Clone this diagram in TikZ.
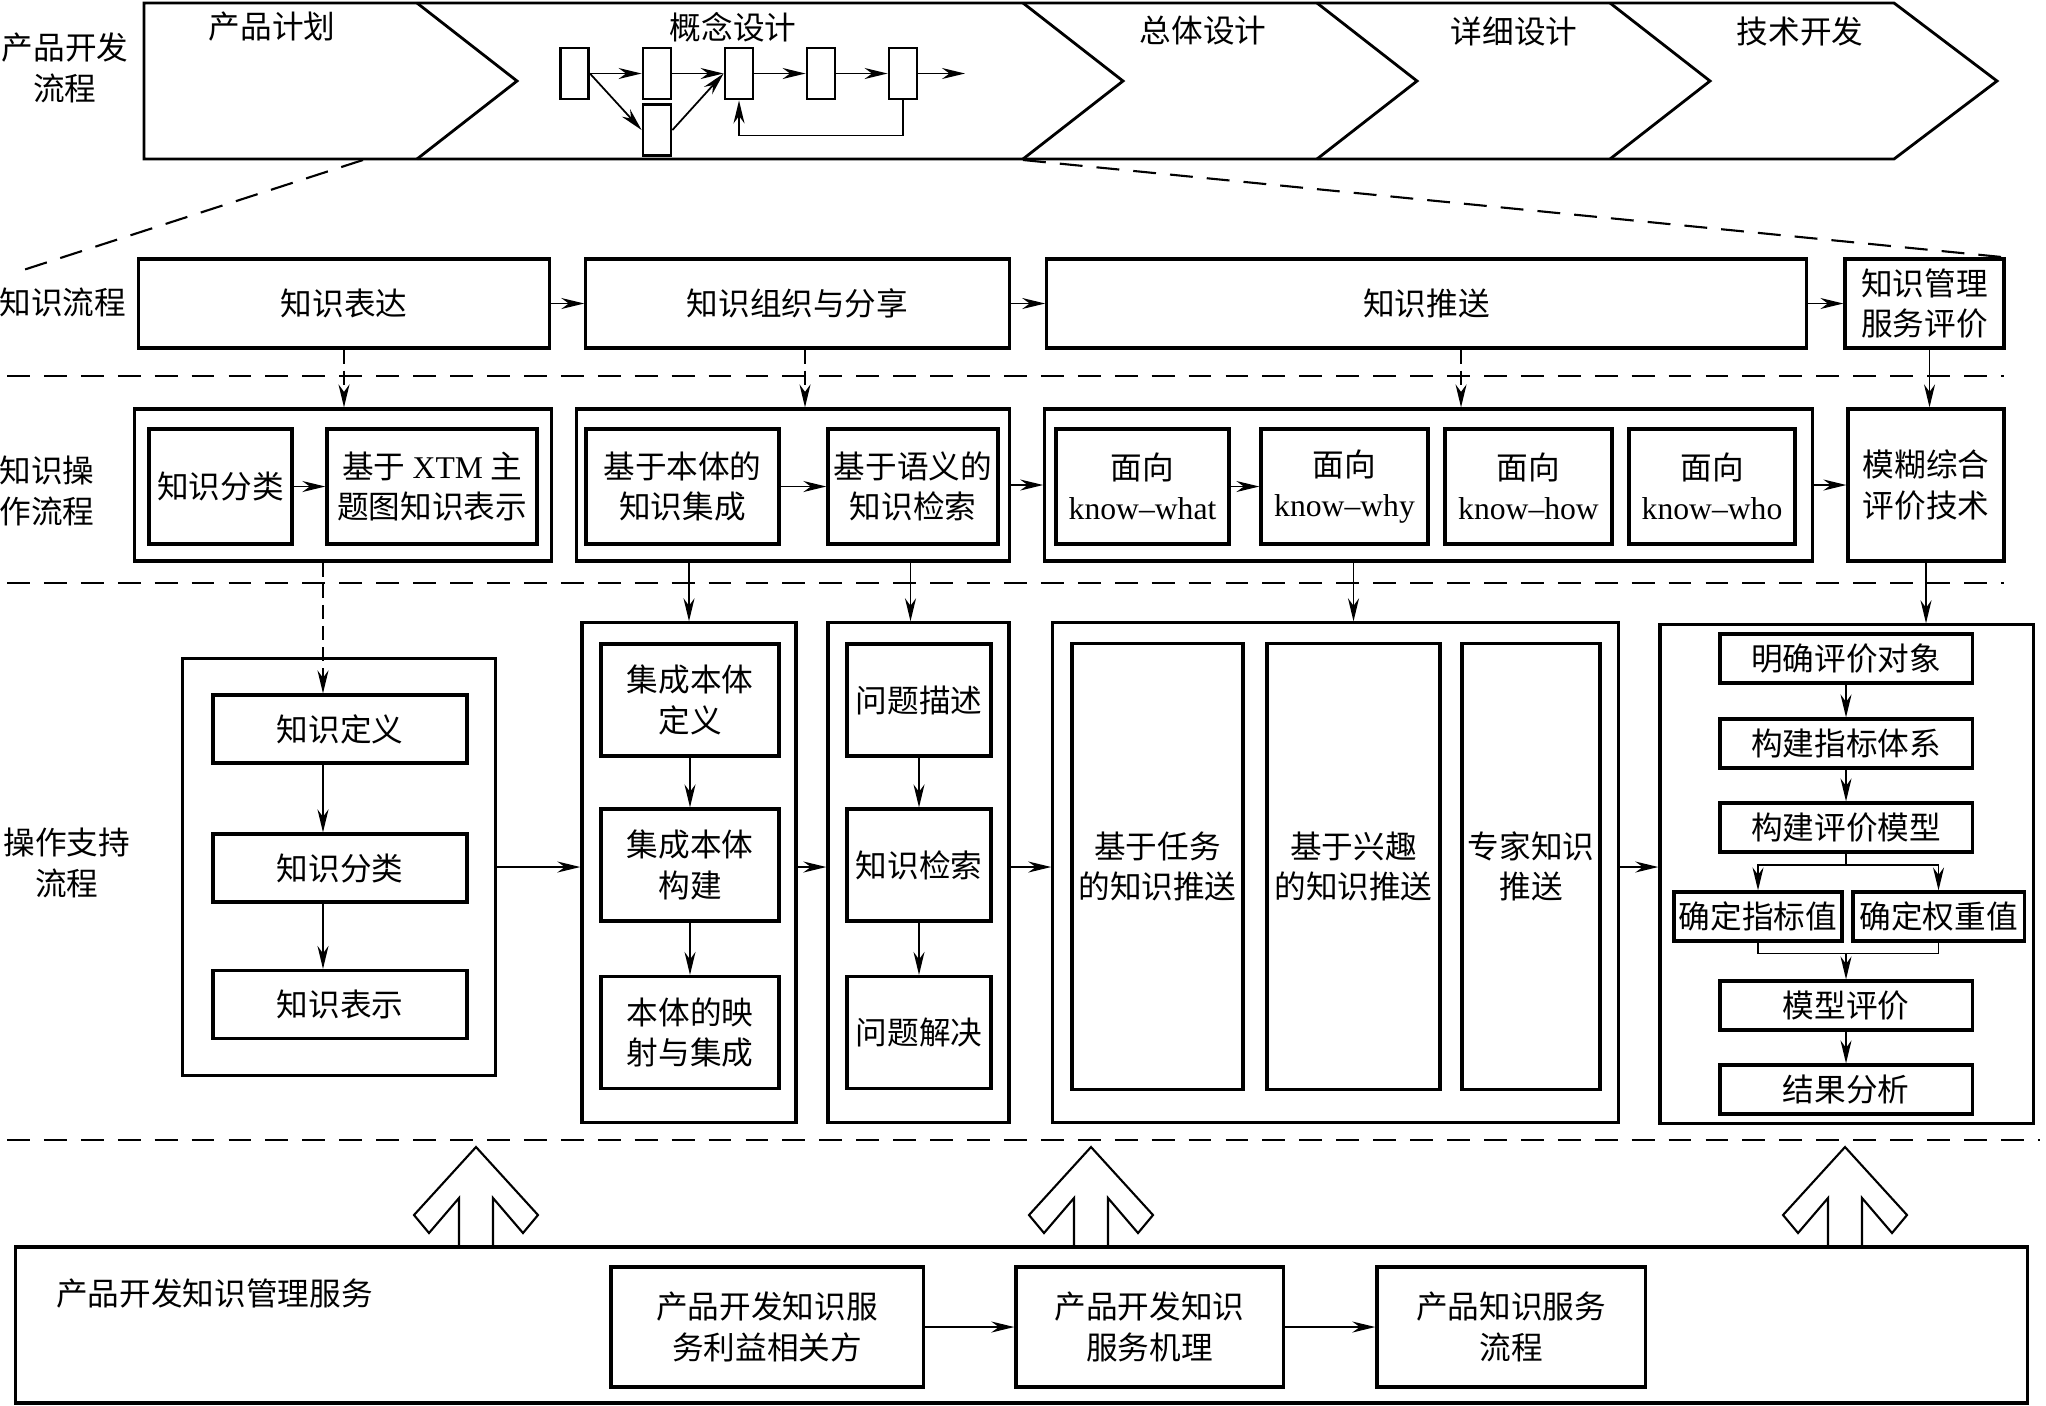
\documentclass[tikz,border=0pt]{standalone}
\usepackage{fontspec}
\setmainfont{Noto Sans CJK SC}
\newfontfamily\latfont{Liberation Serif}
\usetikzlibrary{arrows.meta,positioning}

\begin{document}
\begin{tikzpicture}[
  x=0.01cm,y=-0.01cm,
  every node/.style={font=\fontsize{9pt}{11.5pt}\selectfont,align=center,inner sep=1pt},
  box/.style={draw,line width=0.9pt},
  flowbox/.style={box,minimum height=8.9mm},
  outerbox/.style={box,minimum height=15.2mm},
  opbox/.style={box,minimum height=11.5mm},
  colbox/.style={box,minimum height=49.9mm},
  tallbox/.style={box,minimum height=11.2mm},
  defbox/.style={box,minimum width=25.4mm,minimum height=6.8mm},
  evalbox/.style={box,minimum height=4.9mm},
  mini/.style={draw,line width=0.8pt,minimum width=2.8mm,minimum height=5.1mm,inner sep=0pt},
  band/.style={line width=0.8pt,line join=miter},
  arrow/.style={-{Stealth[length=2.3mm,width=1.1mm]},line width=0.5pt},
  darrow/.style={arrow,dash pattern=on 4pt off 2pt},
  sepline/.style={line width=0.6pt,dash pattern=on 6.5pt off 4pt},
  bigarrow/.style={line width=0.6pt,line join=miter}
]
\useasboundingbox (0,0) rectangle (2046,1405);

\draw[band] (144,3) -- (1894,3) -- (1997,81) -- (1894,159) -- (144,159) -- cycle;
\foreach \c in {417,1023,1317,1610}
  \draw[band] (\c,3) -- ++(100,78) -- (\c,159);

\node (st1) at (272,27) {产品计划};
\node (st2) at (733,27) {概念设计};
\node (st3) at (1203,31) {总体设计};
\node (st4) at (1514,31) {详细设计};
\node (st5) at (1800,31) {技术开发};

\foreach \i/\x in {1/574.5,2/657,3/739,4/821,5/903}
  \node[mini] (m\i) at (\x,73.5) {};
\node[mini] (m6) at (657,130) {};
\coordinate (mout) at (965,73.5);
\foreach \i/\j in {1/2,2/3,3/4,4/5}
  \draw[arrow] (m\i) -- (m\j);
\draw[arrow] (m5) -- (mout);
\draw[arrow] (m1.east) -- (m6.west);
\draw[arrow] (m6.east) -- (m3.west);
\draw[arrow] (m5.south) -- ++(0,35) -| (m3.south);

\node (lab0) at (65,68) {产品开发\\流程};
\node (lab1) at (63,302) {知识流程};
\node (lab2) at (47,491) {知识操\\作流程};
\node (lab3) at (67,863) {操作支持\\流程};

\node[flowbox,minimum width=41mm] (expr) at (344,303.5) {知识表达};
\node[flowbox,minimum width=42.3mm] (org) at (797.5,303.5) {知识组织与分享};
\node[flowbox,minimum width=75.9mm] (push) at (1426.5,303.5) {知识推送};
\node[flowbox,minimum width=15.9mm] (evl) at (1924.5,303.5) {知识管理\\服务评价};

\coordinate (zl) at (363,160);
\coordinate (zr) at (1023,160);
\coordinate (zend) at (14,273);
\draw[sepline] (zl) -- (zend);
\draw[sepline] (zr) -- (evl.north east);

\node[outerbox,minimum width=41.6mm] (g1) at (343,485) {};
\node[opbox,minimum width=14.3mm] (cls) at (220.5,486.5) {知识分类};
\node[opbox,minimum width=21mm] (xtm) at (432,486.5) {基于 {\latfont XTM} 主\\题图知识表示};
\node[outerbox,minimum width=43.2mm] (g2) at (793,485) {};
\node[opbox,minimum width=19.3mm] (ont) at (682.5,486.5) {基于本体的\\知识集成};
\node[opbox,minimum width=17mm] (sem) at (913,486.5) {基于语义的\\知识检索};
\node[outerbox,minimum width=76.7mm] (g3) at (1428.5,485) {};
\node[opbox,minimum width=17.3mm] (what) at (1142.5,486.5) {面向\\{\latfont know–what}};
\node[opbox,minimum width=16.7mm] (why) at (1344.5,486.5) {面向\\{\latfont know–why}};
\node[opbox,minimum width=16.7mm] (how) at (1528.5,486.5) {面向\\{\latfont know–how}};
\node[opbox,minimum width=16.6mm] (who) at (1712,486.5) {面向\\{\latfont know–who}};
\node[outerbox,minimum width=15.6mm] (fuzzy) at (1926,485) {模糊综合\\评价技术};

\draw[arrow] (expr) -- (org);
\draw[arrow] (org) -- (push);
\draw[arrow] (push) -- (evl);
\draw[darrow] (expr.south) -- (expr.south |- g1.north);
\draw[darrow] ([xshift=0.75mm]org.south) -- ([xshift=0.75mm]org.south |- g2.north);
\draw[darrow] ([xshift=3.45mm]push.south) -- ([xshift=3.45mm]push.south |- g3.north);
\draw[arrow] ([xshift=0.5mm]evl.south) -- ([xshift=0.5mm]evl.south |- fuzzy.north);
\draw[arrow] (cls) -- (xtm);
\draw[arrow] (ont) -- (sem);
\draw[arrow] (g2) -- (g3);
\draw[arrow] (what) -- (why);
\draw[arrow] (g3) -- (fuzzy);

\node[box,minimum width=31.2mm,minimum height=41.6mm] (gA) at (339,867) {};
\node[defbox] (defn) at (340,729) {知识定义};
\node[defbox] (clsB) at (340,868) {知识分类};
\node[defbox] (rep) at (340,1004.5) {知识表示};
\node[colbox,minimum width=21.4mm] (gB) at (689,872.5) {};
\node[tallbox,minimum width=17.8mm] (ib1) at (690,700) {集成本体\\定义};
\node[tallbox,minimum width=17.8mm] (ib2) at (690,865) {集成本体\\构建};
\node[tallbox,minimum width=17.8mm] (ib3) at (690,1032.5) {本体的映\\射与集成};
\node[colbox,minimum width=18.1mm] (gC) at (918.5,872.5) {};
\node[tallbox,minimum width=14.4mm] (ic1) at (919,700) {问题描述};
\node[tallbox,minimum width=14.4mm] (ic2) at (919,865) {知识检索};
\node[tallbox,minimum width=14.4mm] (ic3) at (919,1032.5) {问题解决};
\node[colbox,minimum width=56.5mm] (gD) at (1335.5,872.5) {};
\node[box,minimum width=17.1mm,minimum height=44.5mm] (id1) at (1157.5,866.5) {基于任务\\的知识推送};
\node[box,minimum width=17.3mm,minimum height=44.5mm] (id2) at (1353.5,866.5) {基于兴趣\\的知识推送};
\node[box,minimum width=13.8mm,minimum height=44.5mm] (id3) at (1531,866.5) {专家知识\\推送};
\node[box,minimum width=37.3mm,minimum height=49.8mm] (gE) at (1846.5,874) {};
\node[evalbox,minimum width=25.2mm] (e1) at (1846,658.5) {明确评价对象};
\node[evalbox,minimum width=25.2mm] (e2) at (1846,743.5) {构建指标体系};
\node[evalbox,minimum width=25.2mm] (e3) at (1846,827.5) {构建评价模型};
\node[evalbox,minimum width=16.8mm] (e4) at (1758,916.5) {确定指标值};
\node[evalbox,minimum width=17.1mm] (e5) at (1938.5,916.5) {确定权重值};
\node[evalbox,minimum width=25.2mm] (e6) at (1846,1005.5) {模型评价};
\node[evalbox,minimum width=25.2mm] (e7) at (1846,1089.5) {结果分析};

\draw[darrow] ([xshift=-2mm]g1.south) -- ([xshift=-2mm]g1.south |- defn.north);
\draw[arrow] (gB.north |- g2.south) -- (gB.north);
\draw[arrow] ([xshift=-0.8mm]gC.north |- g2.south) -- ([xshift=-0.8mm]gC.north);
\draw[arrow] (id2.north |- g3.south) -- (id2.north |- gD.north);
\draw[arrow] (fuzzy.south) -- (fuzzy.south |- gE.north);

\draw[arrow] ([xshift=-1.7mm]defn.south) -- ([xshift=-1.7mm]clsB.north);
\draw[arrow] ([xshift=-1.7mm]clsB.south) -- ([xshift=-1.7mm]rep.north);
\draw[arrow] (ib1) -- (ib2);
\draw[arrow] (ib2) -- (ib3);
\draw[arrow] (ic1) -- (ic2);
\draw[arrow] (ic2) -- (ic3);
\draw[arrow] (gA.east) -- (gA.east -| gB.west);
\draw[arrow] (gB.east |- gA.east) -- (gC.west |- gA.east);
\draw[arrow] (gC.east |- gA.east) -- (gD.west |- gA.east);
\draw[arrow] (gD.east |- gA.east) -- (gE.west |- gA.east);
\draw[arrow] (e1) -- (e2);
\draw[arrow] (e2) -- (e3);
\draw (e3.south) -- ++(0,11) coordinate (split);
\draw[arrow] (split) -| (e4.north);
\draw[arrow] (split) -| (e5.north);
\draw (e4.south) -- ++(0,11) coordinate (merge) -| (e5.south);
\draw[arrow] (merge -| e6.north) -- (e6.north);
\draw[arrow] (e6) -- (e7);

\draw[sepline] (7,376) -- (2004,376);
\draw[sepline] (7,583) -- (2004,583);
\draw[sepline] (7,1140) -- (2040,1140);

\node[box,minimum width=201.1mm,minimum height=15.6mm] (svc) at (1021.5,1325) {};
\node[anchor=west] (svclab) at (52,1293) {产品开发知识管理服务};
\node[box,minimum width=31.2mm,minimum height=12mm] (sv1) at (767,1327) {产品开发知识服\\务利益相关方};
\node[box,minimum width=26.7mm,minimum height=12mm] (sv2) at (1149.5,1327) {产品开发知识\\服务机理};
\node[box,minimum width=26.8mm,minimum height=12mm] (sv3) at (1511,1327) {产品知识服务\\流程};
\draw[arrow] (sv1) -- (sv2);
\draw[arrow] (sv2) -- (sv3);

\foreach \c in {476,1091,1845}
  \draw[bigarrow] (\c-17,1247) -- (\c-17,1198) -- (\c-47,1233) -- (\c-62,1215)
    -- (\c,1147) -- (\c+62,1215) -- (\c+47,1233) -- (\c+17,1198) -- (\c+17,1247);
\end{tikzpicture}
\end{document}
